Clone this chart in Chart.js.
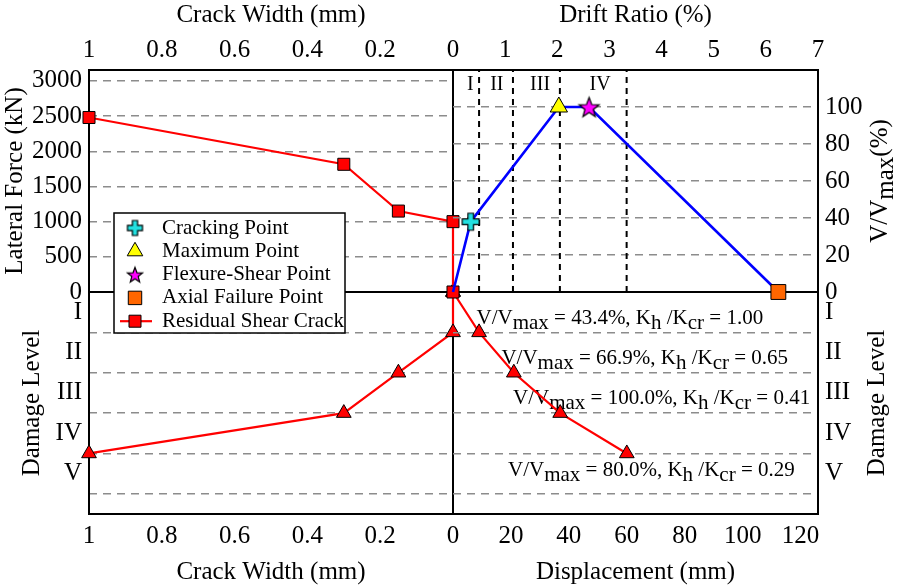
<!DOCTYPE html>
<html>
<head>
<meta charset="utf-8">
<script src="https://cdn.jsdelivr.net/npm/chart.js@4.4.1/dist/chart.umd.min.js"></script>
<style>
  html, body { margin: 0; padding: 0; background: #fff; }
  #wrap { position: relative; width: 898px; height: 587px; }
  #wrap canvas { position: absolute; left: 0; top: 0; }
</style>
</head>
<body>
<div id="wrap">
  <canvas id="c-bl" width="898" height="587"></canvas>
  <canvas id="c-br" width="898" height="587"></canvas>
  <canvas id="c-tl" width="898" height="587"></canvas>
  <canvas id="c-tr" width="898" height="587"></canvas>
</div>
<script>
"use strict";

// ── Data ────────────────────────────────────────────────────────────
// top-left: residual shear crack width (mm) vs lateral force (kN)
const crackLabel = "Residual Shear Crack";
const crackTop   = [1, 0.3, 0.15, 0, 0];
const forceTop   = [2480, 1815, 1150, 1000, 0];

// top-right: key points, drift ratio (%) vs V/Vmax (%)
const keyNames = ["Cracking Point", "Maximum Point", "Flexure-Shear Point", "Axial Failure Point"];
const keyDrift = [0.34, 2.03, 2.61, 6.24];
const keyPct   = [38, 100, 100, 0];

// damage level limits (drift %) and level names
const damageNames = ["I", "II", "III", "IV", "V"];
const limitDrift  = [0.5, 1.15, 2.05, 3.33];

// bottom: crack width / displacement reached at each damage level
const levelBottom = [0, 1, 2, 3, 4];
const crackBottom = [0, 0, 0.15, 0.3, 1];
const dispBottom  = [0, 9, 21, 37, 60];
const vRatio = ["43.4", "66.9", "100.0", "80.0"];
const kRatio = ["1.00", "0.65", "0.41", "0.29"];

// tick values
const crackTicks = [1, 0.8, 0.6, 0.4, 0.2, 0];
const driftTicks = [0, 1, 2, 3, 4, 5, 6, 7];
const dispTicks  = [0, 20, 40, 60, 80, 100, 120];
const forceTicks = [0, 500, 1000, 1500, 2000, 2500, 3000];
const pctTicks   = [0, 20, 40, 60, 80, 100];
const levelTicks = [0.5, 1, 1.5, 2, 2.5, 3, 3.5, 4, 4.5, 5];

// ── Look & layout ───────────────────────────────────────────────────
const FONT = "'Liberation Serif', 'Times New Roman', Times, serif";
const FS = 25;
Chart.defaults.font.family = FONT;
Chart.defaults.color = "#000";
Chart.defaults.animation = false;

const W = 898, H = 587;
const PLOT = { left: 89, right: 818, top: 70, bottom: 514, midX: 453, midY: 292 };
const RED = "#ff0000", BLUE = "#0000ff", CYAN = "#22e0e0",
      YELLOW = "#ffff00", MAGENTA = "#ff00ff", ORANGE = "#ff6600", GRID = "#8c8c8c";

// annotation anchors (displacement mm, damage level) and legend box
const annDisp  = [8.1, 16.7, 20.7, 19.0];
const annLevel = [0.66, 1.65, 2.64, 4.42];
const levelLabelDrift = [0.33, 0.84, 1.67, 2.82];
const LEGEND = { x: 114, y: 213, w: 231, h: 120, row: 23.3, markX: 135, textX: 162 };

// ── Marker images ───────────────────────────────────────────────────
function marker(size, draw) {
  const c = document.createElement("canvas");
  c.width = c.height = size;
  const g = c.getContext("2d");
  g.translate(size / 2, size / 2);
  g.lineJoin = "miter";
  draw(g);
  return c;
}
const plusMarker = (a, b) => marker(2 * a + 4, g => {
  g.beginPath();
  [[-b,-a],[b,-a],[b,-b],[a,-b],[a,b],[b,b],[b,a],[-b,a],[-b,b],[-a,b],[-a,-b],[-b,-b]]
    .forEach(([x, y], i) => i ? g.lineTo(x, y) : g.moveTo(x, y));
  g.closePath();
  g.fillStyle = CYAN; g.fill();
  g.lineWidth = 1.2; g.strokeStyle = "#000"; g.stroke();
});
const starMarker = R => marker(2 * R + 4, g => {
  const r = R * 0.42;
  g.beginPath();
  for (let i = 0; i < 10; i++) {
    const ang = -Math.PI / 2 + i * Math.PI / 5;
    const rr = i % 2 ? r : R;
    const x = Math.cos(ang) * rr, y = Math.sin(ang) * rr + R * 0.1;
    i ? g.lineTo(x, y) : g.moveTo(x, y);
  }
  g.closePath();
  g.fillStyle = MAGENTA; g.fill();
  g.lineWidth = 1.2; g.strokeStyle = "#000"; g.stroke();
});

const keyStyles = [
  { pointStyle: plusMarker(8.5, 2.8), radius: 8 },
  { pointStyle: "triangle", radius: 10, bg: YELLOW },
  { pointStyle: starMarker(10.5), radius: 10 },
  { pointStyle: "rect", radius: 10.5, bg: ORANGE },
];
const legendStyles = [
  { pointStyle: plusMarker(7.5, 2.6) },
  { pointStyle: "triangle", radius: 9, bg: YELLOW },
  { pointStyle: starMarker(8) },
  { pointStyle: "rect", radius: 9.5, bg: ORANGE },
  { pointStyle: "rect", radius: 8.5, bg: RED, line: true },
];

// ── Helpers ─────────────────────────────────────────────────────────
const pts = (xs, ys) => xs.map((x, i) => ({ x, y: ys[i] }));

function drawRich(ctx, parts, x, y, size, align) {
  ctx.font = `${size}px ${FONT}`;
  ctx.textAlign = "left";
  ctx.textBaseline = "middle";
  const total = parts.reduce((w, [t]) => w + ctx.measureText(t).width, 0);
  let cx = align === "center" ? x - total / 2 : x;
  for (const [t, sub] of parts) {
    ctx.fillText(t, cx, y + (sub ? size * 0.24 : 0));
    cx += ctx.measureText(t).width;
  }
}

const framePlugin = {
  id: "frame",
  beforeDatasetsDraw(chart, args, opts) {
    const { left, right, top, bottom } = chart.chartArea;
    const ctx = chart.ctx;
    const sides = opts.sides || "tlbr";
    ctx.save();
    ctx.strokeStyle = "#000";
    ctx.lineWidth = 2;
    ctx.lineCap = "square";
    ctx.beginPath();
    if (sides.includes("t")) { ctx.moveTo(left, top);    ctx.lineTo(right, top); }
    if (sides.includes("b")) { ctx.moveTo(left, bottom); ctx.lineTo(right, bottom); }
    if (sides.includes("l")) { ctx.moveTo(left, top);    ctx.lineTo(left, bottom); }
    if (sides.includes("r")) { ctx.moveTo(right, top);   ctx.lineTo(right, bottom); }
    ctx.stroke();
    ctx.restore();
  },
};

function xAxis(pos, min, max, ticks, title, extra = {}, hideZero = false) {
  return Object.assign({
    type: "linear", position: pos, min, max,
    afterBuildTicks: s => { s.ticks = ticks.map(value => ({ value })); },
    afterFit: s => { s.height = pos === "top" ? PLOT.top : H - PLOT.bottom; },
    grid: { display: false, drawTicks: false },
    border: { display: false },
    ticks: { font: { size: FS }, padding: pos === "top" ? 5 : 7,
             maxRotation: 0, minRotation: 0, autoSkip: false,
             callback: v => (hideZero && v === 0) ? "" : String(v) },
    title: { display: true, text: title, font: { size: FS }, padding: 0 },
  }, extra);
}

function yAxis(pos, min, max, ticks, extra = {}) {
  return Object.assign({
    type: "linear", position: pos, min, max,
    afterBuildTicks: s => { s.ticks = ticks.map(value => ({ value })); },
    afterFit: s => { s.width = pos === "left" ? PLOT.left : W - PLOT.right; },
    grid: { drawTicks: false, lineWidth: 1.5,
            color: c => (c.tick && c.tick.value > 0) ? GRID : "transparent" },
    border: { display: false, dash: [8, 6] },
    ticks: { font: { size: FS }, padding: 7, autoSkip: false, callback: v => String(v) },
    title: { display: false },
  }, extra);
}

// damage level axis: labels between grid lines, grid at whole levels
const levelAxisExtra = title => ({
  reverse: true,
  grid: { drawTicks: false, lineWidth: 1.5,
          color: c => (c.tick && Number.isInteger(c.tick.value)) ? GRID : "transparent" },
  ticks: { font: { size: FS }, padding: 7, autoSkip: false,
           callback: v => Number.isInteger(v) ? "" : damageNames[Math.floor(v)] },
  title: title ? { display: true, text: title, font: { size: FS }, padding: { top: 17 } }
               : { display: false },
});

const baseOpts = (padding, scales, plugins) => ({
  responsive: false,
  maintainAspectRatio: false,
  animation: false,
  events: [],
  layout: { padding },
  scales,
  plugins: Object.assign({ legend: { display: false }, tooltip: { enabled: false } }, plugins),
});

const redLine = {
  showLine: true, borderColor: RED, borderWidth: 2.2,
  pointBackgroundColor: RED, pointBorderColor: "#000", pointBorderWidth: 1,
  clip: false,
};

// ── Bottom-left: crack width vs damage level ────────────────────────
new Chart(document.getElementById("c-bl"), {
  type: "scatter",
  data: { datasets: [Object.assign({
    label: crackLabel, data: pts(crackBottom, levelBottom),
    pointStyle: "triangle", pointRadius: 8.5,
  }, redLine)] },
  options: baseOpts(
    { left: 0, top: PLOT.midY, right: W - PLOT.midX, bottom: 0 },
    {
      x: xAxis("bottom", 0, 1, crackTicks, "Crack Width (mm)", { reverse: true }),
      y: yAxis("left", 0, 5.5, levelTicks, levelAxisExtra("Damage Level")),
    },
    { frame: { sides: "tlbr" } }),
  plugins: [framePlugin],
});

// ── Bottom-right: displacement vs damage level ──────────────────────
const annotationPlugin = {
  id: "annotations",
  beforeDatasetsDraw(chart) {
    const { ctx, scales: { x, y } } = chart;
    ctx.save();
    ctx.fillStyle = "#000";
    vRatio.forEach((v, i) => {
      drawRich(ctx, [["V/V", 0], ["max", 1], [` = ${v}%, K`, 0], ["h", 1],
                     [" /K", 0], ["cr", 1], [` = ${kRatio[i]}`, 0]],
               x.getPixelForValue(annDisp[i]), y.getPixelForValue(annLevel[i]), 21, "left");
    });
    ctx.restore();
  },
  afterDraw(chart) {
    const { ctx, chartArea } = chart;
    ctx.save();
    ctx.translate(W - 21, (chartArea.top + chartArea.bottom) / 2);
    ctx.rotate(-Math.PI / 2);
    ctx.fillStyle = "#000";
    drawRich(ctx, [["Damage Level", 0]], 0, 0, FS, "center");
    ctx.restore();
  },
};

new Chart(document.getElementById("c-br"), {
  type: "scatter",
  data: { datasets: [Object.assign({
    label: crackLabel, data: pts(dispBottom, levelBottom),
    pointStyle: "triangle", pointRadius: 8.5,
  }, redLine)] },
  options: baseOpts(
    { left: PLOT.midX, top: PLOT.midY, right: 0, bottom: 0 },
    {
      x: xAxis("bottom", 0, 126, dispTicks, "Displacement (mm)", {}, true),
      y: yAxis("right", 0, 5.5, levelTicks, levelAxisExtra(null)),
    },
    { frame: { sides: "tbr" } }),
  plugins: [framePlugin, annotationPlugin],
});

// ── Top-left: crack width vs lateral force ──────────────────────────
new Chart(document.getElementById("c-tl"), {
  type: "scatter",
  data: { datasets: [Object.assign({
    label: crackLabel, data: pts(crackTop, forceTop),
    pointStyle: "rect", pointRadius: 8.5,
  }, redLine)] },
  options: baseOpts(
    { left: 0, top: 0, right: W - PLOT.midX, bottom: H - PLOT.midY },
    {
      x: xAxis("top", 0, 1, crackTicks, "Crack Width (mm)", { reverse: true }),
      y: yAxis("left", 0, 3155, forceTicks,
               { title: { display: true, text: "Lateral Force (kN)", font: { size: FS }, padding: 0 } }),
    },
    { frame: { sides: "tlr" } }),
  plugins: [framePlugin],
});

// ── Top-right: drift ratio vs V/Vmax, plus legend ───────────────────
const topRightPlugin = {
  id: "topRight",
  beforeDatasetsDraw(chart) {
    const { ctx, scales: { x, y } } = chart;
    ctx.save();
    ctx.fillStyle = "#000";
    levelLabelDrift.forEach((d, i) => {
      drawRich(ctx, [[damageNames[i], 0]], x.getPixelForValue(d), y.getPixelForValue(112), 20, "center");
    });
    ctx.restore();
  },
  afterDraw(chart) {
    const { ctx, chartArea } = chart;
    // right axis title
    ctx.save();
    ctx.translate(W - 18, (chartArea.top + chartArea.bottom) / 2);
    ctx.rotate(-Math.PI / 2);
    ctx.fillStyle = "#000";
    drawRich(ctx, [["V/V", 0], ["max", 1], ["(%)", 0]], 0, 0, FS, "center");
    ctx.restore();

    // legend
    const L = LEGEND;
    ctx.save();
    ctx.fillStyle = "#fff";
    ctx.fillRect(L.x, L.y, L.w, L.h);
    ctx.lineWidth = 1.5;
    ctx.strokeStyle = "#000";
    ctx.strokeRect(L.x, L.y, L.w, L.h);
    const names = keyNames.concat([crackLabel]);
    names.forEach((name, i) => {
      const yy = L.y + 15 + i * L.row;
      const s = legendStyles[i];
      if (s.line) {
        ctx.beginPath();
        ctx.strokeStyle = RED;
        ctx.lineWidth = 2.2;
        ctx.moveTo(L.markX - 15, yy);
        ctx.lineTo(L.markX + 17, yy);
        ctx.stroke();
      }
      ctx.fillStyle = s.bg || "#000";
      ctx.strokeStyle = "#000";
      ctx.lineWidth = 1;
      Chart.helpers.drawPoint(ctx, { pointStyle: s.pointStyle, radius: s.radius || 8,
                                     rotation: 0, borderWidth: 1 }, L.markX, yy);
      ctx.fillStyle = "#000";
      drawRich(ctx, [[name, 0]], L.textX, yy, 21, "left");
    });
    ctx.restore();
  },
};

const keyDatasets = keyNames.map((name, i) => ({
  label: name,
  data: [{ x: keyDrift[i], y: keyPct[i] }],
  pointStyle: keyStyles[i].pointStyle,
  pointRadius: keyStyles[i].radius,
  pointBackgroundColor: keyStyles[i].bg || "#000",
  pointBorderColor: "#000",
  pointBorderWidth: 1,
  clip: false,
  order: 0,
}));

const limitDatasets = limitDrift.map(d => ({
  label: "limit",
  data: [{ x: d, y: 0 }, { x: d, y: 120 }],
  showLine: true, borderColor: "#000", borderWidth: 2, borderDash: [6, 5],
  pointRadius: 0, order: 3,
}));

new Chart(document.getElementById("c-tr"), {
  type: "scatter",
  data: { datasets: keyDatasets.concat([{
    label: "curve",
    data: pts([0].concat(keyDrift), [0].concat(keyPct)),
    showLine: true, borderColor: BLUE, borderWidth: 2.6,
    pointRadius: 0, clip: false, order: 1,
  }], limitDatasets) },
  options: baseOpts(
    { left: PLOT.midX, top: 0, right: 0, bottom: H - PLOT.midY },
    {
      x: xAxis("top", 0, 7, driftTicks, "Drift Ratio (%)", {}, true),
      y: yAxis("right", 0, 120, pctTicks),
    },
    { frame: { sides: "tr" } }),
  plugins: [framePlugin, topRightPlugin],
});
</script>
</body>
</html>
